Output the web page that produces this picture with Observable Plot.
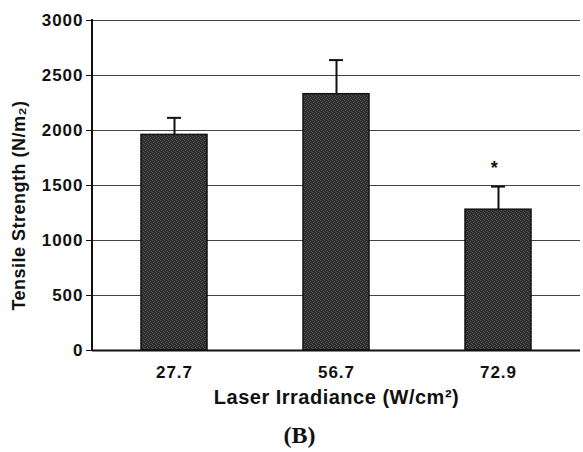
<!DOCTYPE html>
<html>
<head>
<meta charset="utf-8">
<script src="https://cdn.jsdelivr.net/npm/d3@7"></script>
<script src="https://cdn.jsdelivr.net/npm/@observablehq/plot@0.6"></script>
<style>
  body { margin: 0; background: #fff; }
  #chart { width: 583px; }
  #cap { width: 583px; text-align: center; font-family: "Liberation Serif", "DejaVu Serif", serif; font-weight: bold; font-size: 24px; line-height: 50px; height: 42px; color: #111; padding-left: 16px; box-sizing: border-box; }
</style>
</head>
<body>
<div id="chart"></div>
<div id="cap">(B)</div>
<script>
const categories = ["27.7", "56.7", "72.9"];
const means = [1960, 2330, 1280];
const errorTops = [2115, 2640, 1490];
const significant = [false, false, true];
const yTicks = [0, 500, 1000, 1500, 2000, 2500, 3000];

const data = categories.map((c, i) => ({ c, v: means[i], e: errorTops[i], sig: significant[i] }));

const font = "'Liberation Sans', Arial, sans-serif";

const plot = Plot.plot({
  width: 583,
  height: 410,
  marginLeft: 92,
  marginRight: 3,
  marginTop: 20,
  marginBottom: 60,
  style: { fontFamily: font, background: "#fff", color: "#111" },
  x: { domain: categories, paddingInner: 0.59, paddingOuter: 0.295, label: null },
  y: { domain: [0, 3000], label: null },
  marks: [
    Plot.ruleY(yTicks.filter(d => d > 0), { stroke: "#444", strokeWidth: 1 }),
    Plot.barY(data, { x: "c", y: "v", fill: "url(#tex)", stroke: "#111", strokeWidth: 1.5 }),
    Plot.ruleX(data, { x: "c", y1: "v", y2: "e", stroke: "#111", strokeWidth: 2 }),
    Plot.tickY(data, { x: "c", y: "e", stroke: "#111", strokeWidth: 2, insetLeft: 26, insetRight: 26 }),
    Plot.text(data.filter(d => d.sig), { x: "c", y: "e", text: () => "*", dx: -4, dy: -18, fontSize: 18, fontWeight: "bold", fill: "#111" }),
    Plot.axisY({ ticks: yTicks, tickFormat: d => String(d), tickSize: 6, tickPadding: 3, fontSize: 17, fontWeight: "bold", label: null, stroke: "#111" }),
    Plot.axisX({ tickSize: 0, tickPadding: 15, fontSize: 17, fontWeight: "bold", label: null }),
    Plot.ruleY([0], { stroke: "#111", strokeWidth: 2 }),
    Plot.text(["Laser Irradiance (W/cm²)"], { frameAnchor: "bottom", dy: 53, fontSize: 20, fontWeight: "bold", fill: "#111" }),
    Plot.text(["Tensile Strength (N/m₂)"], { frameAnchor: "left", textAnchor: "middle", dx: -73, dy: 20, rotate: -90, fontSize: 18, fontWeight: "bold", fill: "#111" })
  ]
});
document.getElementById("chart").appendChild(plot);

const svg = d3.select(plot);
// texture pattern for bars
const defs = svg.insert("defs", ":first-child");
const pat = defs.append("pattern").attr("id", "tex").attr("width", 4).attr("height", 4).attr("patternUnits", "userSpaceOnUse");
pat.append("rect").attr("width", 4).attr("height", 4).attr("fill", "#2c2c2c");
[[0,0],[2,1],[1,2],[3,3]].forEach(([x,y]) => pat.append("rect").attr("x", x).attr("y", y).attr("width", 1).attr("height", 1).attr("fill", "#555"));
// y-axis spine
svg.append("line")
  .attr("x1", 92).attr("x2", 92).attr("y1", 19).attr("y2", 351)
  .attr("stroke", "#111").attr("stroke-width", 2);
// wider lettering like the scanned figure
svg.selectAll("g[aria-label='y-axis tick label'] text, g[aria-label='x-axis tick label'] text").attr("letter-spacing", "1px");
svg.selectAll("g[aria-label='text'] text").attr("letter-spacing", "0.5px");
</script>
</body>
</html>
